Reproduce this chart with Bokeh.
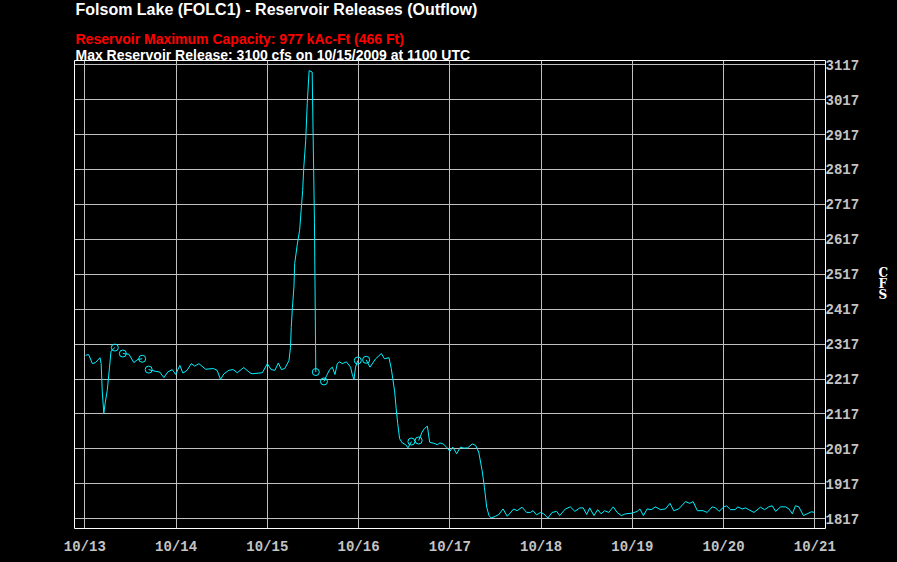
import pandas as pd
from bokeh.plotting import figure
from bokeh.models import (FixedTicker, DatetimeTickFormatter, Range1d, ColumnDataSource, Title,
                          LinearAxis)
from bokeh.embed import file_html
from bokeh.resources import INLINE

nan = float("nan")

# ---- data (hours after 10/13/2009 00:00 UTC, outflow in cfs; nan = missing data) ----
start_time = "2009-10-13 00:00"
hours = [
    0.2, 1.0, 2.0, 2.8, 4.0, 4.3, 4.6, 5.0, 5.4, 5.9, 6.5, 6.9, 7.9,
    9.0,
    10.0, 11.6, 12.9, 13.9, 15.1,
    16.0,
    16.8, 18.6, 19.7, 20.8, 21.8, 23.0, 23.9, 25.0, 25.8, 26.9, 28.0, 28.9, 30.0,
    31.8, 33.8, 34.8, 35.7, 36.6, 37.9, 39.0, 40.1, 41.8, 43.4, 44.0, 46.7, 48.0,
    49.0, 50.0, 50.9, 51.7, 52.6, 53.7, 54.1, 54.3, 54.6, 55.0, 55.2, 55.9, 56.5,
    56.9, 57.3, 57.6, 58.1, 58.5, 59.0, 59.8, 60.0, 60.4, 60.75,
    61.8,
    62.9, 63.6, 64.4, 65.1, 65.8, 66.4, 67.0, 67.7, 68.8, 69.9, 70.3, 70.8, 71.2, 71.8,
    73.0,
    74.0, 75.0, 76.5, 78.0, 78.8, 80.0, 80.6, 81.0, 81.5, 81.9, 82.3, 82.8, 83.5,
    84.4, 85.0, 85.9,
    86.8,
    87.8, 88.7, 89.3, 90.1, 90.7, 91.8, 92.7, 93.4, 94.3, 95.3, 96.0, 96.8, 97.8,
    98.8, 99.7, 100.7, 101.9, 102.8, 103.6, 104.5, 105.1, 105.7, 106.3, 106.9, 108.0,
    108.9, 110.0, 111.1, 112.8, 113.7, 115.0, 116.2, 117.2, 117.9, 118.8, 119.9, 120.7,
    121.8, 122.9, 124.1, 124.9, 126.4, 127.7, 128.9, 130.2, 131.1, 132.0, 132.8, 133.9,
    134.9, 135.8, 136.7, 137.8, 139.0, 140.0, 141.1, 142.2, 144.0, 145.3, 146.0, 146.9,
    147.9, 149.0, 150.1, 151.4, 152.7, 153.9, 154.9, 156.2, 158.0, 159.1, 160.0, 161.1,
    162.6, 163.7, 165.0, 165.9, 166.8, 168.1, 168.8, 169.8, 171.1, 171.7, 172.9, 173.8,
    174.6, 176.0, 177.7, 178.8, 179.9, 180.8, 181.7, 183.0, 184.3, 185.2, 186.1, 186.9,
    187.8, 189.0, 190.0, 191.1, 191.9,
]
cfs = [
    2285, 2287, 2261, 2264, 2278, 2261, 2180, 2119, 2151, 2184, 2251, 2297, 2307,
    nan,
    2290, 2288, 2264, 2273, 2275,
    nan,
    2244, 2239, 2237, 2221, 2237, 2244, 2230, 2256, 2234, 2242, 2261, 2254, 2261,
    2245, 2247, 2242, 2216, 2232, 2242, 2244, 2235, 2250, 2235, 2232, 2235, 2261,
    2244, 2242, 2263, 2244, 2247, 2270, 2308, 2365, 2421, 2480, 2547, 2604, 2643,
    2700, 2757, 2824, 2900, 3005, 3100, 3096, 2953, 2666, 2237,
    nan,
    2210, 2227, 2244, 2251, 2230, 2261, 2266, 2261, 2266, 2251, 2232, 2215, 2251, 2270,
    nan,
    2272, 2251, 2275, 2290, 2275, 2278, 2247, 2218, 2180, 2132, 2089, 2046, 2034,
    2029, 2020, 2038,
    nan,
    2041, 2065, 2075, 2082, 2036, 2033, 2029, 2034, 2031, 2020, 2010, 2022, 2003,
    2022, 2019, 2020, 2031, 2027, 2008, 1955, 1907, 1850, 1826, 1819, 1824,
    1829, 1845, 1824, 1845, 1840, 1850, 1835, 1835, 1840, 1828, 1835, 1831,
    1819, 1835, 1838, 1826, 1845, 1851, 1838, 1848, 1848, 1829, 1848, 1826,
    1843, 1831, 1840, 1835, 1851, 1835, 1826, 1831, 1833, 1838, 1845, 1826,
    1845, 1843, 1851, 1843, 1845, 1861, 1840, 1845, 1866, 1861, 1866, 1840,
    1840, 1835, 1851, 1848, 1838, 1851, 1854, 1843, 1843, 1851, 1845, 1848,
    1843, 1835, 1850, 1843, 1851, 1854, 1838, 1851, 1851, 1845, 1831, 1854,
    1851, 1826, 1831, 1837, 1835,
]
y_ticks = [1817, 1917, 2017, 2117, 2217, 2317, 2417, 2517, 2617, 2717, 2817, 2917, 3017, 3117]
x_tick_dates = ["2009-10-13", "2009-10-14", "2009-10-15", "2009-10-16", "2009-10-17",
                "2009-10-18", "2009-10-19", "2009-10-20", "2009-10-21"]

title_text = "Folsom Lake (FOLC1) - Reservoir Releases (Outflow)"
capacity_text = "Reservoir Maximum Capacity: 977 kAc-Ft (466 Ft)"
max_text = "Max Reservoir Release: 3100 cfs on 10/15/2009 at 1100 UTC"
unit_text = "C\nF\nS"
unit_label_at = 2488  # vertical placement of the stacked unit label

# ---- build ----
t0 = pd.Timestamp(start_time)
times = [t0 + pd.Timedelta(hours=h) for h in hours]
src = ColumnDataSource(dict(t=times, v=cfs))

# segment ends next to missing data get a hollow circle marker
mark_t, mark_v = [], []
for i, v in enumerate(cfs):
    if v != v:
        continue
    prev_nan = i > 0 and cfs[i - 1] != cfs[i - 1]
    next_nan = i < len(cfs) - 1 and cfs[i + 1] != cfs[i + 1]
    if prev_nan or next_nan:
        mark_t.append(times[i])
        mark_v.append(v)

x_start = t0 - pd.Timedelta(hours=2.71)
x_end = pd.Timestamp(x_tick_dates[-1]) + pd.Timedelta(hours=2.81)

p = figure(frame_width=751, frame_height=468, x_axis_type="datetime", y_axis_location="right",
           output_backend="svg", toolbar_location=None,
           x_range=Range1d(x_start.to_pydatetime(), x_end.to_pydatetime()),
           y_range=Range1d(1789, 3129),
           min_border_left=74, min_border_right=72, min_border_top=60, min_border_bottom=32,
           background_fill_color="black", border_fill_color="black",
           outline_line_color="white", outline_line_width=1)
p.title = None

tick_ms = [pd.Timestamp(d).value // 10**6 for d in x_tick_dates]
p.xaxis.ticker = FixedTicker(ticks=tick_ms)
fmt = "%m/%d"
p.xaxis.formatter = DatetimeTickFormatter(microseconds=fmt, milliseconds=fmt, seconds=fmt,
                                          minsec=fmt, minutes=fmt, hourmin=fmt, hours=fmt,
                                          days=fmt, months=fmt, years=fmt)
p.yaxis.ticker = FixedTicker(ticks=y_ticks)

# second right-hand axis carrying the stacked "CFS" unit label
unit_axis = LinearAxis(ticker=FixedTicker(ticks=[unit_label_at]),
                       major_label_overrides={unit_label_at: unit_text})
p.add_layout(unit_axis, "right")

for ax in (p.xaxis[0], p.yaxis[0], unit_axis):
    ax.axis_line_color = None
    ax.major_tick_line_color = None
    ax.minor_tick_line_color = None
    ax.major_tick_out = 0
    ax.major_tick_in = 0
    ax.major_label_text_color = "#c4c4c4"
    ax.major_label_text_font = "Liberation Mono"
    ax.major_label_text_font_style = "bold"
    ax.major_label_text_font_size = "14px"
p.xaxis.major_label_standoff = 10
p.yaxis[0].major_label_standoff = 0

unit_axis.major_label_text_color = "white"
unit_axis.major_label_text_font = "DejaVu Serif"
unit_axis.major_label_text_font_size = "12px"
unit_axis.major_label_text_line_height = 0.78
unit_axis.major_label_standoff = 16

p.grid.grid_line_color = "#c0c0c0"
p.grid.grid_line_width = 1

p.line("t", "v", source=src, line_color="#00f2ff", line_width=1)
p.scatter(mark_t, mark_v, marker="circle", size=7, fill_color=None,
          line_color="#00f2ff", line_width=1)

# stacked header lines: first added sits closest to the frame
p.add_layout(Title(text=max_text, text_color="white", text_font="Liberation Sans",
                   text_font_style="bold", text_font_size="14px", align="left",
                   offset=1, standoff=-4), "above")
p.add_layout(Title(text=capacity_text, text_color="#ff0000", text_font="Liberation Sans",
                   text_font_style="bold", text_font_size="14px", align="left",
                   offset=1, standoff=-1), "above")
p.add_layout(Title(text=" ", text_font_size="10px", standoff=-1), "above")
p.add_layout(Title(text=title_text, text_color="white", text_font="Liberation Sans",
                   text_font_style="bold", text_font_size="16px", align="left",
                   vertical_align="top", offset=1, standoff=-5), "above")

html = file_html(p, INLINE)
html = html.replace("</head>",
                    "<style>html,body{background:#000000;margin:0;overflow:hidden;}</style></head>", 1)
open("out.html", "w").write(html)
